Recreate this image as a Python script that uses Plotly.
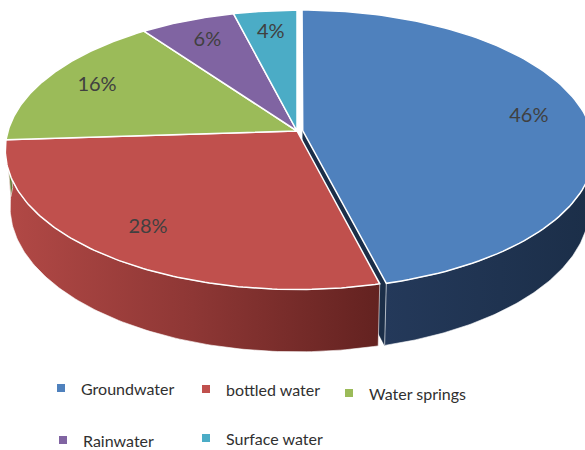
import numpy as np
import plotly.graph_objects as go

# --- data -------------------------------------------------------------
labels = ["Groundwater", "bottled water", "Water springs", "Rainwater", "Surface water"]
values = [46, 28, 16, 6, 4]
pct_text = ["46%", "28%", "16%", "6%", "4%"]

# --- styling ----------------------------------------------------------
top_colors = ["#4F81BD", "#C0504D", "#9BBB59", "#8064A2", "#4BACC6"]
side_scales = [
    [[0, "#24395A"], [1, "#1B2E48"]],
    [[0, "#B24946"], [0.5, "#8E3735"], [1, "#632220"]],
    [[0, "#7E9A45"], [1, "#5E7433"]],
    [[0, "#66507F"], [1, "#4C3B60"]],
    [[0, "#3C8AA0"], [1, "#2C6677"]],
]
explode = [0.02, 0, 0, 0, 0]

W, H = 585, 450
CX, CY, S = 297, 131, 289          # screen centre and radius scale (px)
ALPHA = np.radians(28.3)           # viewing elevation
PERSP = 0.154                      # perspective strength
DEPTH = 0.226                      # pie thickness (in radius units)
LABEL_R = 0.8

ca, sa = np.cos(ALPHA), np.sin(ALPHA)


def project(X, Y, Z):
    X, Y, Z = np.asarray(X, float), np.asarray(Y, float), np.asarray(Z, float)
    v = Y * ca - Z * sa
    w = Z * ca + Y * sa
    s = 1.0 / (1.0 - PERSP * w)
    return CX + S * X * s, CY - S * v * s


def rim(t, off, r=1.0, y=0.0):
    X = off[0] + r * np.sin(t)
    Z = off[1] - r * np.cos(t)
    return project(X, np.full_like(X, y), Z)


fr = np.array(values, float) / sum(values)
ends = np.cumsum(fr) * 2 * np.pi
starts = ends - fr * 2 * np.pi
mids = (starts + ends) / 2
offs = [(e * np.sin(m), -e * np.cos(m)) for e, m in zip(explode, mids)]

radial, sides, tops = [], [], []
for i in range(len(values)):
    a, b, off = starts[i], ends[i], offs[i]
    # top face
    t = np.linspace(a, b, 120)
    rx, ry = rim(t, off)
    cx0, cy0 = project(off[0], 0, off[1])
    tops.append(go.Scatter(
        x=np.r_[cx0, rx, cx0], y=np.r_[cy0, ry, cy0], mode="lines",
        fill="toself", fillcolor=top_colors[i],
        line=dict(color="white", width=1.5), hoverinfo="skip"))
    # visible part of the outer wall (front half)
    t1, t2 = max(a, np.pi / 2), min(b, 3 * np.pi / 2)
    if t2 > t1:
        t = np.linspace(t1, t2, 120)
        ux, uy = rim(t, off)
        lx, ly = rim(t[::-1], off, y=-DEPTH)
        sides.append(go.Scatter(
            x=np.r_[ux, lx, ux[0]], y=np.r_[uy, ly, uy[0]], mode="lines",
            fill="toself", fillgradient=dict(type="horizontal", colorscale=side_scales[i]),
            line=dict(color="rgba(255,255,255,0.6)", width=1), hoverinfo="skip"))
    # cut face showing through the gap of an exploded slice
    if explode[i] > 0:
        bx, by = rim(np.array([b]), off)
        bbx, bby = rim(np.array([b]), off, y=-DEPTH)
        ccx, ccy = project(off[0], -DEPTH, off[1])
        radial.append(go.Scatter(
            x=[cx0, bx[0], bbx[0], ccx, cx0], y=[cy0, by[0], bby[0], ccy, cy0],
            mode="lines", fill="toself", fillcolor="#1B2E48",
            line=dict(color="#1B2E48", width=0.5), hoverinfo="skip"))

fig = go.Figure(radial + sides + tops)

# percentage labels at the slice mid-angles
lab_x, lab_y = [], []
for m, off in zip(mids, offs):
    px, py = rim(np.array([m]), off, r=LABEL_R)
    lab_x.append(px[0]); lab_y.append(py[0])
fig.add_trace(go.Scatter(
    x=lab_x, y=lab_y, mode="text", text=pct_text,
    textfont=dict(family="Lato, Open Sans, sans-serif", size=20, color="#404040"),
    hoverinfo="skip"))

# legend
leg_pos = [(61, 388), (206, 389), (349, 393), (63, 440), (206, 438)]
fig.add_trace(go.Scatter(
    x=[p[0] for p in leg_pos], y=[p[1] for p in leg_pos], mode="markers",
    marker=dict(symbol="square", size=8, color=top_colors), hoverinfo="skip"))
for name, (x0, y0) in zip(labels, leg_pos):
    fig.add_annotation(x=x0 + 18, y=y0, text=name, showarrow=False, xanchor="left",
                       yanchor="middle",
                       font=dict(family="Lato, Open Sans, sans-serif", size=16, color="#303030"))

fig.update_layout(
    width=W, height=H, margin=dict(l=0, r=0, t=0, b=0),
    paper_bgcolor="white", plot_bgcolor="white", showlegend=False,
    xaxis=dict(range=[0, W], visible=False, fixedrange=True),
    yaxis=dict(range=[H, 0], visible=False, fixedrange=True),
)
fig.write_html("out.html")
